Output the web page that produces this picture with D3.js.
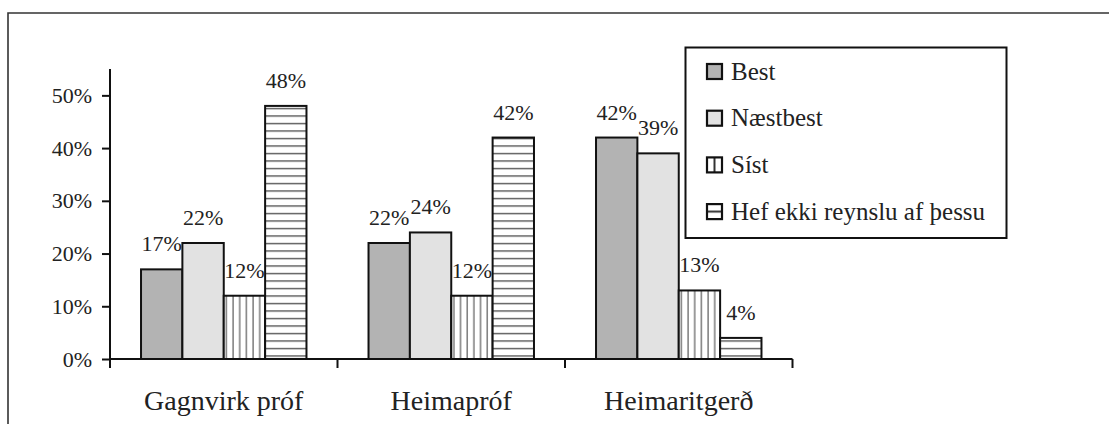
<!DOCTYPE html>
<html>
<head>
<meta charset="utf-8">
<script src="https://cdn.jsdelivr.net/npm/d3@7/dist/d3.min.js"></script>
<style>
  html, body { margin: 0; padding: 0; background: #fff; }
  svg { display: block; }
</style>
</head>
<body>
<svg id="chart" width="1109" height="424"></svg>
<script>
// Survey answers: which assessment type respondents rated best, next best, worst
const categories = ["Gagnvirk próf", "Heimapróf", "Heimaritgerð"];
const seriesNames = ["Best", "Næstbest", "Síst", "Hef ekki reynslu af þessu"];
const best = [0.17, 0.22, 0.42];
const naestbest = [0.22, 0.24, 0.39];
const sist = [0.12, 0.12, 0.13];
const hefEkki = [0.48, 0.42, 0.04];
const yTicks = [0, 0.1, 0.2, 0.3, 0.4, 0.5];

const seriesValues = [best, naestbest, sist, hefEkki];
const fills = ["#b3b3b3", "#e2e2e2", "url(#vstripes)", "url(#hstripes)"];
const FONT = "'Liberation Serif', 'Times New Roman', Times, serif";

const svg = d3.select("#chart");
const defs = svg.append("defs");

// Vertical hatch for "Síst"
const vp = defs.append("pattern").attr("id", "vstripes")
  .attr("patternUnits", "userSpaceOnUse").attr("width", 6.67).attr("height", 10);
vp.append("rect").attr("width", 6.67).attr("height", 10).attr("fill", "#fff");
vp.append("line").attr("x1", 3).attr("x2", 3).attr("y1", 0).attr("y2", 10)
  .attr("stroke", "#666").attr("stroke-width", 1.3);

// Horizontal hatch for "Hef ekki reynslu af þessu"
const hp = defs.append("pattern").attr("id", "hstripes")
  .attr("patternUnits", "userSpaceOnUse").attr("width", 10).attr("height", 7.5);
hp.append("rect").attr("width", 10).attr("height", 7.5).attr("fill", "#fff");
hp.append("line").attr("x1", 0).attr("x2", 10).attr("y1", 3.5).attr("y2", 3.5)
  .attr("stroke", "#555").attr("stroke-width", 1.4);

// Small legend patterns
const vpl = defs.append("pattern").attr("id", "vstripesLegend")
  .attr("patternUnits", "objectBoundingBox").attr("width", 1).attr("height", 1);
vpl.append("rect").attr("width", 15).attr("height", 15).attr("fill", "#fff");
vpl.append("line").attr("x1", 7.5).attr("x2", 7.5).attr("y1", 0).attr("y2", 15)
  .attr("stroke", "#333").attr("stroke-width", 2);
const hpl = defs.append("pattern").attr("id", "hstripesLegend")
  .attr("patternUnits", "objectBoundingBox").attr("width", 1).attr("height", 1);
hpl.append("rect").attr("width", 15).attr("height", 15).attr("fill", "#fff");
hpl.append("line").attr("x1", 0).attr("x2", 15).attr("y1", 7.5).attr("y2", 7.5)
  .attr("stroke", "#333").attr("stroke-width", 2);
const legendFills = ["#b3b3b3", "#e2e2e2", "url(#vstripesLegend)", "url(#hstripesLegend)"];

// Outer frame (open to the right and bottom)
svg.append("path")
  .attr("d", "M8,430 L8,13 L1115,13")
  .attr("fill", "none").attr("stroke", "#333").attr("stroke-width", 1.6);

const plot = { left: 110, right: 792.5, top: 69, bottom: 359 };

const x0 = d3.scaleBand().domain(categories)
  .range([plot.left, plot.right]).paddingInner(0).paddingOuter(0);
const x1 = d3.scaleBand().domain(d3.range(seriesNames.length))
  .range([0, x0.bandwidth()]).paddingInner(0).paddingOuter(0.75);
const y = d3.scaleLinear().domain([0, 0.55]).range([plot.bottom, plot.top]);

// Bars and value labels
const groups = svg.append("g").selectAll("g")
  .data(categories).join("g")
  .attr("transform", d => `translate(${x0(d)},0)`);

groups.each(function(cat, ci) {
  const g = d3.select(this);
  seriesValues.forEach((vals, si) => {
    g.append("rect")
      .attr("x", x1(si))
      .attr("y", y(vals[ci]))
      .attr("width", x1.bandwidth())
      .attr("height", y(0) - y(vals[ci]))
      .attr("fill", fills[si])
      .attr("stroke", "#111")
      .attr("stroke-width", 2);
  });
  seriesValues.forEach((vals, si) => {
    g.append("text")
      .attr("x", x1(si) + x1.bandwidth() / 2)
      .attr("y", y(vals[ci]) - 18)
      .attr("text-anchor", "middle")
      .style("font-family", FONT)
      .style("font-size", "22px")
      .style("fill", "#222")
      .text(d3.format(".0%")(vals[ci]));
  });
});

// Y axis
const yAxis = d3.axisLeft(y).tickValues(yTicks).tickFormat(d3.format(".0%"))
  .tickSizeOuter(0).tickSizeInner(8).tickPadding(10);
const gy = svg.append("g").attr("transform", `translate(${plot.left},0)`).call(yAxis);
gy.select(".domain").attr("d", `M0,${plot.top}V${plot.bottom}`)
  .attr("stroke", "#111").attr("stroke-width", 2);
gy.selectAll(".tick line").attr("stroke", "#111").attr("stroke-width", 2);
gy.selectAll(".tick text").style("font-size", "22px")
  .style("font-family", FONT).style("fill", "#222");

// X axis with boundary ticks between categories
const gx = svg.append("g").attr("transform", `translate(0,${plot.bottom})`);
gx.append("line").attr("x1", plot.left).attr("x2", plot.right)
  .attr("stroke", "#111").attr("stroke-width", 2);
const bounds = categories.map(c => x0(c)).concat([x0(categories[categories.length - 1]) + x0.bandwidth()]);
gx.selectAll("line.tk").data(bounds).join("line").attr("class", "tk")
  .attr("x1", d => d).attr("x2", d => d).attr("y1", 0).attr("y2", 9)
  .attr("stroke", "#111").attr("stroke-width", 2);
gx.selectAll("text").data(categories).join("text")
  .attr("x", d => x0(d) + x0.bandwidth() / 2)
  .attr("y", 51)
  .attr("text-anchor", "middle")
  .style("font-family", FONT)
  .style("font-size", "28px")
  .style("fill", "#222")
  .text(d => d);

// Legend
const legend = svg.append("g");
legend.append("rect")
  .attr("x", 685.5).attr("y", 47.5).attr("width", 321).attr("height", 190.5)
  .attr("fill", "#fff").attr("stroke", "#111").attr("stroke-width", 2);
const items = legend.selectAll("g.item").data(seriesNames).join("g").attr("class", "item")
  .attr("transform", (d, i) => `translate(707, ${71.5 + i * 46.7})`);
items.append("rect")
  .attr("x", 0).attr("y", -7.5).attr("width", 15).attr("height", 15)
  .attr("fill", (d, i) => legendFills[i])
  .attr("stroke", "#111").attr("stroke-width", 2.2);
items.append("text")
  .attr("x", 24).attr("y", 8)
  .style("font-family", FONT)
  .style("font-size", "25px")
  .style("fill", "#222")
  .text(d => d);
</script>
</body>
</html>
